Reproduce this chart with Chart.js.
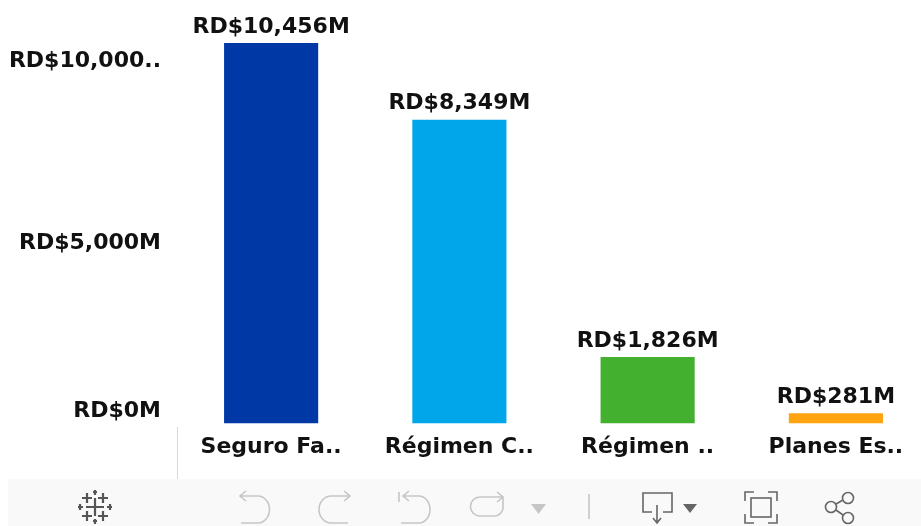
<!DOCTYPE html>
<html>
<head>
<meta charset="utf-8">
<style>
  html, body { margin: 0; padding: 0; background: #fff; overflow: hidden; }
  #wrap { position: relative; width: 921px; height: 526px; overflow: hidden; }
  #chart { position: absolute; left: 0; top: 0; }
  #rule { position: absolute; left: 177px; top: 427px; width: 1px; height: 52px; background: #d9d9d9; }
  #toolbar { position: absolute; left: 8px; top: 479px; width: 913px; height: 47px; background: #f9f9f9; }
  #icons { position: absolute; left: 0; top: 0; }
</style>
<script src="https://cdn.jsdelivr.net/npm/chart.js@4"></script>
</head>
<body>
<div id="wrap">
  <canvas id="chart" width="930" height="479"></canvas>
  <div id="rule"></div>
  <div id="toolbar"></div>
  <svg id="icons" width="921" height="526" fill="none" stroke-width="1.6">
    <!-- logo -->
    <g stroke="#555" stroke-width="2.200">
      <path d="M95 498v18M86 507h18"/>
      <path d="M87 493v10M82 498h10M103 493v10M98 498h10M87 511v10M82 516h10M103 511v10M98 516h10"/>
      <path d="M80 504v6M78 507h5M110 504v6M107 507h5M95 490v5M93 492h4M95 519v5M93 521h4"/>
    </g>
    <!-- undo, redo, revert, refresh -->
    <g stroke="#c6c6c6">
      <path d="M240 496h18a11.500 13.500 0 0 1 0 27h-17M246 491l-6 5 6 5"/>
      <path d="M350 496h-19a12 13.500 0 0 0 0 27h17M344 491l6 5-6 5"/>
      <path d="M399 492v10M403 496h16a11 13.500 0 0 1 0 27h-18M409 491l-6 5 6 5"/>
      <path d="M503 497v9a9 9 0 0 1-9 10h-14a9 9 0 0 1 0-19h23M497 492l6 5-6 5"/>
      <path d="M589 494v25"/>
    </g>
    <path d="M531 504h15l-7.500 10z" fill="#c6c6c6"/>
    <!-- download, fullscreen, share -->
    <g stroke="#666">
      <path d="M652 512h-9v-19h29v19h-9M657 505v17M653 518l4 5 4-5"/>
      <path d="M745 501v-9h9M768 492h9v9M777 514v9h-9M754 523h-9v-9"/>
      <rect x="751" y="498" width="20" height="19"/>
      <circle cx="848" cy="498" r="5.500"/>
      <circle cx="831" cy="507" r="5.500"/>
      <circle cx="848" cy="518" r="5.500"/>
      <path d="M836 504l7-4M836 510l7 5"/>
    </g>
    <path d="M683 504h14l-7 9z" fill="#666"/>
  </svg>
</div>
<script>
// data
const categories = ["Seguro Fa..", "Régimen C..", "Régimen ..", "Planes Es.."];
const amounts = [10456, 8349, 1826, 281];
const amountLabels = ["RD$10,456M", "RD$8,349M", "RD$1,826M", "RD$281M"];
const barColors = ["#0039a6", "#00a6e9", "#43b02f", "#ffa30f"];
const tickValues = [0, 5000, 10000];
const tickLabels = ["RD$0M", "RD$5,000M", "RD$10,000.."];

const FONT = "'DejaVu Sans', sans-serif";
const FONT_SIZE = 22;
const TEXT = "#111";

// value labels above each bar
const barLabels = {
  id: "barLabels",
  afterDatasetsDraw(chart) {
    const { ctx } = chart;
    ctx.save();
    ctx.font = "bold " + FONT_SIZE + "px " + FONT;
    ctx.fillStyle = TEXT;
    ctx.textAlign = "center";
    ctx.textBaseline = "middle";
    chart.getDatasetMeta(0).data.forEach((bar, i) => {
      ctx.fillText(amountLabels[i], bar.x, bar.y - 16);
    });
    ctx.restore();
  }
};

new Chart(document.getElementById("chart"), {
  type: "bar",
  data: {
    labels: categories,
    datasets: [{
      data: amounts,
      backgroundColor: barColors,
      categoryPercentage: 1,
      barPercentage: 0.5
    }]
  },
  plugins: [barLabels],
  options: {
    responsive: false,
    animation: false,
    layout: { padding: 0 },
    plugins: { legend: { display: false }, tooltip: { enabled: false } },
    scales: {
      x: {
        grid: { display: false, drawTicks: false },
        border: { display: false },
        ticks: {
          autoSkip: false,
          maxRotation: 0,
          minRotation: 0,
          padding: 11,
          color: TEXT,
          font: { family: FONT, size: FONT_SIZE, weight: "bold" }
        },
        afterFit: scale => { scale.height = 55.5; }
      },
      y: {
        min: 0,
        max: 11638,
        grid: { display: false, drawTicks: false },
        border: { display: false },
        afterBuildTicks: scale => { scale.ticks = tickValues.map(value => ({ value })); },
        ticks: {
          padding: 16,
          color: TEXT,
          // blank line after the label lifts it (bottom tick), blank line before nudges it down
          callback: (value) => {
            const label = tickLabels[tickValues.indexOf(value)];
            return value === 0 ? [label, ""] : ["", label];
          },
          font: ctx => ({
            family: FONT,
            size: FONT_SIZE,
            weight: "bold",
            lineHeight: ctx.tick && ctx.tick.value === 0 ? "25px" : "4px"
          })
        },
        afterFit: scale => {
          scale.width = 177;
          scale.paddingTop = 0;
          scale.paddingBottom = 0;
        }
      }
    }
  }
});
</script>
</body>
</html>
